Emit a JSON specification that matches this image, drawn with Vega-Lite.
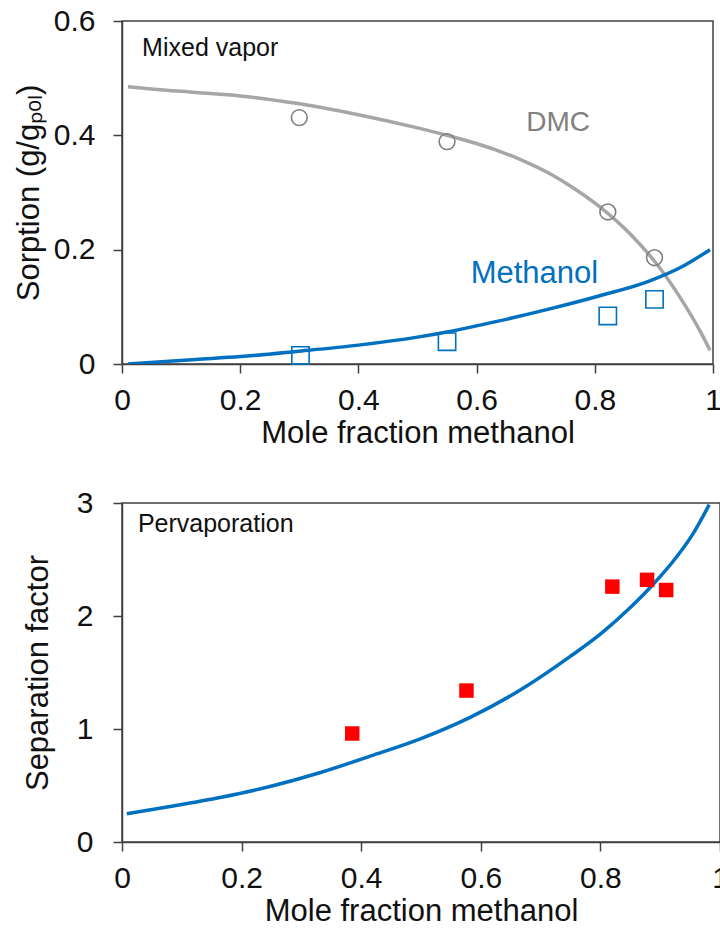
{
  "$schema": "https://vega.github.io/schema/vega-lite/v6.json",
  "padding": {"left": 12, "top": 5, "right": 0, "bottom": 0},
  "background": "white",
  "datasets": {
    "dmc_curve": [
      {"x": 0.01, "y": 0.485}, {"x": 0.05, "y": 0.481}, {"x": 0.125, "y": 0.475}, {"x": 0.2, "y": 0.469},
      {"x": 0.295, "y": 0.456}, {"x": 0.4, "y": 0.436}, {"x": 0.5, "y": 0.413}, {"x": 0.55, "y": 0.4},
      {"x": 0.6365, "y": 0.373}, {"x": 0.68, "y": 0.355}, {"x": 0.722, "y": 0.334}, {"x": 0.765, "y": 0.307},
      {"x": 0.807, "y": 0.276}, {"x": 0.864, "y": 0.223}, {"x": 0.91, "y": 0.168}, {"x": 0.944, "y": 0.117},
      {"x": 0.978, "y": 0.058}, {"x": 0.995, "y": 0.024}
    ],
    "meoh_curve": [
      {"x": 0.01, "y": 0.0}, {"x": 0.125, "y": 0.008}, {"x": 0.2, "y": 0.013}, {"x": 0.295, "y": 0.022},
      {"x": 0.4, "y": 0.033}, {"x": 0.5, "y": 0.047}, {"x": 0.55, "y": 0.056}, {"x": 0.6365, "y": 0.075},
      {"x": 0.722, "y": 0.096}, {"x": 0.807, "y": 0.119}, {"x": 0.892, "y": 0.145}, {"x": 0.949, "y": 0.171},
      {"x": 0.995, "y": 0.2}
    ],
    "dmc_pts": [
      {"x": 0.3, "y": 0.431}, {"x": 0.55, "y": 0.389}, {"x": 0.822, "y": 0.266}, {"x": 0.901, "y": 0.186}
    ],
    "meoh_pts": [
      {"x": 0.302, "y": 0.015}, {"x": 0.55, "y": 0.039}, {"x": 0.822, "y": 0.084}, {"x": 0.901, "y": 0.113}
    ],
    "top_labels": [
      {"x": 0.034, "y": 0.553, "text": "Mixed vapor", "kind": "panel"},
      {"x": 0.684, "y": 0.422, "text": "DMC", "kind": "dmc"},
      {"x": 0.59, "y": 0.157, "text": "Methanol", "kind": "meoh"}
    ],
    "sep_curve": [
      {"x": 0.008, "y": 0.25}, {"x": 0.083, "y": 0.316}, {"x": 0.166, "y": 0.396}, {"x": 0.249, "y": 0.493},
      {"x": 0.332, "y": 0.615}, {"x": 0.415, "y": 0.76}, {"x": 0.5, "y": 0.915}, {"x": 0.583, "y": 1.105},
      {"x": 0.666, "y": 1.345}, {"x": 0.749, "y": 1.64}, {"x": 0.8045, "y": 1.86}, {"x": 0.854, "y": 2.095},
      {"x": 0.8876, "y": 2.277}, {"x": 0.921, "y": 2.48}, {"x": 0.954, "y": 2.72}, {"x": 0.982, "y": 2.985}
    ],
    "sep_pts": [
      {"x": 0.385, "y": 0.96}, {"x": 0.576, "y": 1.34}, {"x": 0.82, "y": 2.26}, {"x": 0.878, "y": 2.32}, {"x": 0.91, "y": 2.23}
    ],
    "bottom_labels": [
      {"x": 0.0266, "y": 2.81, "text": "Pervaporation"}
    ]
  },
  "vconcat": [
    {
      "width": 591,
      "height": 343,
      "encoding": {
        "x": {"field": "x", "type": "quantitative", "scale": {"domain": [0, 1]},
          "axis": {"values": [0, 0.2, 0.4, 0.6, 0.8, 1], "format": "~g", "title": "Mole fraction methanol", "labelPadding": 12, "titlePadding": 3}},
        "y": {"field": "y", "type": "quantitative", "scale": {"domain": [0, 0.6]},
          "axis": {"values": [0, 0.2, 0.4, 0.6], "format": "~g", "title": "Sorption (g/gₚₒₗ)", "labelPadding": 18, "titlePadding": 8}}
      },
      "layer": [
        {"data": {"name": "dmc_curve"}, "mark": {"type": "line", "color": "#a6a6a6", "strokeWidth": 3.5, "interpolate": "monotone", "clip": true}},
        {"data": {"name": "meoh_curve"}, "mark": {"type": "line", "color": "#0070c0", "strokeWidth": 3.5, "interpolate": "monotone", "clip": true}},
        {"data": {"name": "dmc_pts"}, "mark": {"type": "point", "shape": "circle", "filled": false, "color": "#808080", "strokeWidth": 1.6, "size": 250, "opacity": 1}},
        {"data": {"name": "meoh_pts"}, "mark": {"type": "point", "shape": "square", "filled": false, "color": "#0070c0", "strokeWidth": 1.6, "size": 300, "opacity": 1}},
        {"data": {"name": "top_labels"}, "mark": {"type": "text", "align": "left", "baseline": "middle", "font": "Liberation Sans"},
          "encoding": {
            "text": {"field": "text"},
            "size": {"field": "kind", "type": "nominal", "scale": {"domain": ["panel", "dmc", "meoh"], "range": [25, 31, 31]}, "legend": null},
            "color": {"field": "kind", "type": "nominal", "scale": {"domain": ["panel", "dmc", "meoh"], "range": ["#111111", "#808080", "#0070c0"]}, "legend": null}
          }}
      ]
    },
    {
      "width": 598,
      "height": 339,
      "encoding": {
        "x": {"field": "x", "type": "quantitative", "scale": {"domain": [0, 1]},
          "axis": {"values": [0, 0.2, 0.4, 0.6, 0.8, 1], "format": "~g", "title": "Mole fraction methanol", "labelPadding": 12, "titlePadding": 3}},
        "y": {"field": "y", "type": "quantitative", "scale": {"domain": [0, 3]},
          "axis": {"values": [0, 1, 2, 3], "format": "~g", "title": "Separation factor", "labelPadding": 20, "titlePadding": 22}}
      },
      "layer": [
        {"data": {"name": "sep_curve"}, "mark": {"type": "line", "color": "#0070c0", "strokeWidth": 3.5, "interpolate": "monotone", "clip": true}},
        {"data": {"name": "sep_pts"}, "mark": {"type": "square", "color": "#ff0000", "size": 210, "opacity": 1}},
        {"data": {"name": "bottom_labels"}, "mark": {"type": "text", "align": "left", "baseline": "middle", "fontSize": 25, "color": "#111111", "font": "Liberation Sans"},
          "encoding": {"text": {"field": "text"}}}
      ]
    }
  ],
  "spacing": 38,
  "config": {
    "font": "Liberation Sans",
    "view": {"stroke": "#404040", "strokeWidth": 1.5},
    "axis": {
      "domainColor": "#404040", "tickColor": "#404040", "domainWidth": 1.5, "tickWidth": 1.5, "tickSize": 9,
      "labelColor": "#111111", "titleColor": "#111111", "labelFont": "Liberation Sans", "titleFont": "Liberation Sans",
      "labelFontSize": 30, "titleFontSize": 31, "titleFontWeight": "normal", "grid": false,
      "labelOverlap": false, "labelFlush": false
    }
  }
}
